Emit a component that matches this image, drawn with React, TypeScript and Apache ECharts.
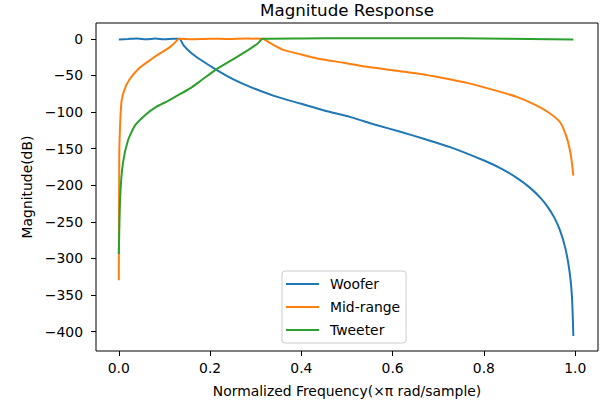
import React, { useEffect, useRef } from "react";
import * as echarts from "echarts";

const seriesNames = ["Woofer", "Mid-range", "Tweeter"];
const colors = ["#1f77b4", "#ff7f0e", "#2ca02c"];

const xTicks = [0, 0.2, 0.4, 0.6, 0.8, 1.0];
const yTicks = [0, -50, -100, -150, -200, -250, -300, -350, -400];

const wooferX = [0, 0.02, 0.04, 0.06, 0.08, 0.1, 0.12, 0.133, 0.142, 0.158, 0.18, 0.213, 0.25, 0.289, 0.34, 0.398, 0.45, 0.508, 0.56, 0.617, 0.67, 0.726, 0.799, 0.84, 0.872, 0.9, 0.925, 0.94, 0.954, 0.967, 0.978, 0.985, 0.99, 0.993, 0.9945, 0.996];
const wooferY = [-0.8, -0.3, 0.4, -0.6, 0.3, -0.5, 0.2, 0, -9, -19, -29, -42, -55, -66, -78, -88.5, -98, -107, -117, -127, -137, -148, -166, -178, -190, -203, -218, -230, -244, -262, -285, -307, -330, -353, -376, -406];

const midX = [0, 0.001, 0.003, 0.006, 0.012, 0.023, 0.045, 0.071, 0.09, 0.107, 0.12, 0.133, 0.16, 0.2, 0.24, 0.28, 0.315, 0.335, 0.362, 0.4, 0.435, 0.49, 0.544, 0.6, 0.654, 0.71, 0.763, 0.836, 0.875, 0.908, 0.94, 0.967, 0.981, 0.99, 0.9945, 0.996];
const midY = [-330, -160, -115, -85, -70, -56, -40, -28, -20, -13.5, -7, 0, -0.5, 0.2, -0.3, 0.3, 0, -7, -15.5, -21.5, -26.8, -32.5, -38.3, -43, -47.4, -53.5, -60.2, -72.5, -80, -89, -100, -114, -134, -157, -178, -187];

const tweeterX = [0, 0.003, 0.009, 0.02, 0.036, 0.06, 0.082, 0.107, 0.13, 0.158, 0.18, 0.213, 0.253, 0.289, 0.305, 0.315, 0.4, 0.5, 0.6, 0.7, 0.8, 0.9, 0.996];
const tweeterY = [-294, -216, -170, -139, -118, -103, -93, -85, -77, -67, -57, -42, -27, -13, -6, 0, 0.5, 0.8, 0.6, 0.8, 0.5, -0.2, -1];

const FONT = "DejaVu Sans";

export default function App() {
  const ref = useRef<HTMLDivElement>(null);
  useEffect(() => {
    if (!ref.current) return;
    const chart = echarts.init(ref.current, null, { renderer: "svg" });
    const xs = [wooferX, midX, tweeterX];
    const ys = [wooferY, midY, tweeterY];
    chart.setOption({
      animation: false,
      backgroundColor: "#fff",
      textStyle: { fontFamily: FONT },
      title: {
        text: "Magnitude Response",
        left: 347,
        top: 1,
        textAlign: "center",
        padding: 0,
        textStyle: { fontFamily: FONT, fontSize: 16.7, fontWeight: "normal", color: "#000" },
      },
      legend: {
        orient: "vertical",
        left: 282,
        top: 271,
        padding: [6, 6, 6, 3],
        itemGap: 9,
        itemWidth: 33,
        itemHeight: 14,
        backgroundColor: "rgba(255,255,255,0.8)",
        borderColor: "#cccccc",
        borderWidth: 1,
        borderRadius: 3,
        data: seriesNames,
        itemStyle: { color: "rgba(0,0,0,0)", borderWidth: 0, opacity: 0 },
        lineStyle: { width: 2 },
        textStyle: { fontFamily: FONT, fontSize: 13.9, color: "#000", padding: [0, 0, 0, 6] },
      },
      grid: {
        left: 96,
        right: 16,
        top: 23,
        bottom: 53,
        show: true,
        borderColor: "#000",
        borderWidth: 1,
        backgroundColor: "transparent",
      },
      xAxis: {
        type: "value",
        min: -0.05,
        max: 1.05,
        name: "Normalized Frequency(×π rad/sample)",
        nameLocation: "middle",
        nameGap: 33,
        nameTextStyle: { fontFamily: FONT, fontSize: 13.9, color: "#000" },
        axisLine: { show: false, onZero: false },
        splitLine: { show: false },
        axisTick: { show: true, length: 5, customValues: xTicks, lineStyle: { color: "#000" } },
        axisLabel: {
          customValues: xTicks,
          margin: 10,
          fontFamily: FONT,
          fontSize: 13.9,
          color: "#000",
          formatter: (v: number) => v.toFixed(1),
        },
      },
      yAxis: {
        type: "value",
        min: -426.6,
        max: 21.6,
        name: "Magnitude(dB)",
        nameLocation: "middle",
        nameGap: 62,
        nameTextStyle: { fontFamily: FONT, fontSize: 13.9, color: "#000" },
        axisLine: { show: false, onZero: false },
        splitLine: { show: false },
        axisTick: { show: true, length: 5, customValues: yTicks, lineStyle: { color: "#000" } },
        axisLabel: {
          customValues: yTicks,
          margin: 13,
          fontFamily: FONT,
          fontSize: 13.9,
          color: "#000",
          formatter: (v: number) => (v < 0 ? "\u2212" + Math.abs(v) : String(v)),
        },
      },
      series: seriesNames.map((name, i) => ({
        name,
        type: "line",
        symbol: "none",
        smooth: 0.2,
        color: colors[i],
        lineStyle: { width: 2, color: colors[i] },
        data: xs[i].map((x, j) => [x, ys[i][j]]),
      })),
    });
    return () => chart.dispose();
  }, []);
  return (
    <div
      ref={ref}
      style={{ position: "fixed", left: 0, top: 0, width: 614, height: 404 }}
    />
  );
}
